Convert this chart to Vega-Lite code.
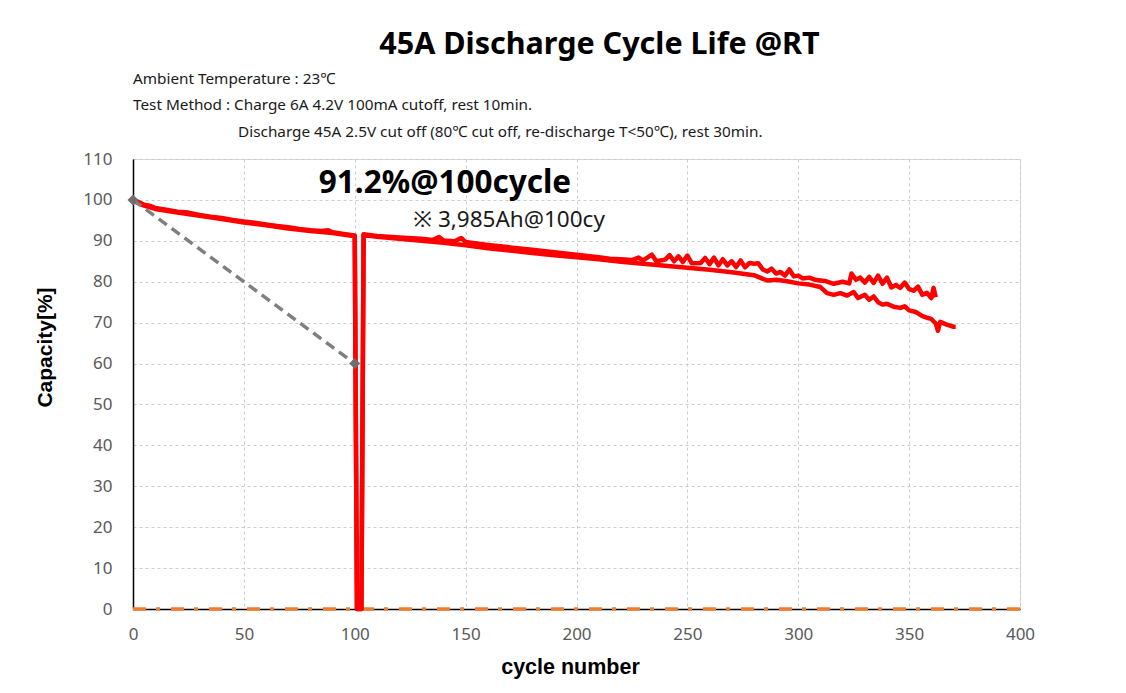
{
  "$schema": "https://vega.github.io/schema/vega-lite/v6.json",
  "width": 887,
  "height": 450,
  "autosize": {"type": "none"},
  "padding": {"left": 133, "top": 159, "right": 106, "bottom": 84},
  "background": "white",
  "title": {
    "text": "45A Discharge Cycle Life @RT",
    "font": "Noto Sans",
    "fontSize": 30.5,
    "fontWeight": "bold",
    "color": "#000000",
    "anchor": "middle",
    "dx": 23,
    "baseline": "alphabetic",
    "offset": -13
  },
  "config": {
    "view": {"stroke": "#d9d9d9", "strokeWidth": 1},
    "axis": {
      "labelFont": "Noto Sans",
      "labelFontSize": 17,
      "labelColor": "#595959",
      "labelFlush": false,
      "titleFont": "Liberation Sans",
      "titleFontSize": 21.5,
      "titleFontWeight": "bold",
      "titleColor": "#000000",
      "domainColor": "#000000",
      "domainWidth": 1.5,
      "ticks": false,
      "gridColor": "#cccccc",
      "gridDash": [3, 3],
      "gridWidth": 1
    }
  },
  "datasets": {
    "capacity": [
      {"series": "A", "cycle": 0, "capacity": 100},
      {"series": "A", "cycle": 2, "capacity": 99.6},
      {"series": "A", "cycle": 5, "capacity": 98.8},
      {"series": "A", "cycle": 8, "capacity": 98.5},
      {"series": "A", "cycle": 10, "capacity": 98.0},
      {"series": "A", "cycle": 15, "capacity": 97.6},
      {"series": "A", "cycle": 20, "capacity": 97.1},
      {"series": "A", "cycle": 25, "capacity": 96.9},
      {"series": "A", "cycle": 30, "capacity": 96.3},
      {"series": "A", "cycle": 35, "capacity": 95.9},
      {"series": "A", "cycle": 40, "capacity": 95.6},
      {"series": "A", "cycle": 45, "capacity": 95.1},
      {"series": "A", "cycle": 50, "capacity": 94.7},
      {"series": "A", "cycle": 55, "capacity": 94.4},
      {"series": "A", "cycle": 60, "capacity": 94.0},
      {"series": "A", "cycle": 65, "capacity": 93.6},
      {"series": "A", "cycle": 70, "capacity": 93.3},
      {"series": "A", "cycle": 75, "capacity": 92.9},
      {"series": "A", "cycle": 80, "capacity": 92.6},
      {"series": "A", "cycle": 85, "capacity": 92.4},
      {"series": "A", "cycle": 88, "capacity": 92.6},
      {"series": "A", "cycle": 90, "capacity": 92.1},
      {"series": "A", "cycle": 95, "capacity": 91.7},
      {"series": "A", "cycle": 100, "capacity": 91.3},
      {"series": "A", "cycle": 101, "capacity": 0},
      {"series": "A", "cycle": 103, "capacity": 0},
      {"series": "A", "cycle": 104, "capacity": 91.6},
      {"series": "A", "cycle": 110, "capacity": 91.2},
      {"series": "A", "cycle": 120, "capacity": 90.8},
      {"series": "A", "cycle": 130, "capacity": 90.5},
      {"series": "A", "cycle": 135, "capacity": 90.2},
      {"series": "A", "cycle": 138, "capacity": 90.9},
      {"series": "A", "cycle": 140, "capacity": 90.1},
      {"series": "A", "cycle": 145, "capacity": 89.9},
      {"series": "A", "cycle": 148, "capacity": 90.7},
      {"series": "A", "cycle": 150, "capacity": 89.7},
      {"series": "A", "cycle": 160, "capacity": 89.0},
      {"series": "A", "cycle": 170, "capacity": 88.4},
      {"series": "A", "cycle": 180, "capacity": 87.8},
      {"series": "A", "cycle": 190, "capacity": 87.2},
      {"series": "A", "cycle": 200, "capacity": 86.6},
      {"series": "A", "cycle": 210, "capacity": 86.0},
      {"series": "A", "cycle": 215, "capacity": 85.6},
      {"series": "A", "cycle": 220, "capacity": 85.5},
      {"series": "A", "cycle": 225, "capacity": 85.3},
      {"series": "A", "cycle": 228, "capacity": 85.9},
      {"series": "A", "cycle": 230, "capacity": 85.2},
      {"series": "A", "cycle": 234, "capacity": 86.6},
      {"series": "A", "cycle": 236, "capacity": 85.0},
      {"series": "A", "cycle": 240, "capacity": 85.4},
      {"series": "A", "cycle": 242, "capacity": 86.5},
      {"series": "A", "cycle": 244, "capacity": 85.0},
      {"series": "A", "cycle": 246, "capacity": 86.2},
      {"series": "A", "cycle": 248, "capacity": 84.8},
      {"series": "A", "cycle": 250, "capacity": 86.4},
      {"series": "A", "cycle": 252, "capacity": 84.5},
      {"series": "A", "cycle": 256, "capacity": 84.6},
      {"series": "A", "cycle": 258, "capacity": 85.8},
      {"series": "A", "cycle": 260, "capacity": 84.3},
      {"series": "A", "cycle": 262, "capacity": 85.9},
      {"series": "A", "cycle": 264, "capacity": 84.0},
      {"series": "A", "cycle": 266, "capacity": 85.5},
      {"series": "A", "cycle": 268, "capacity": 84.0},
      {"series": "A", "cycle": 270, "capacity": 85.0},
      {"series": "A", "cycle": 272, "capacity": 83.6},
      {"series": "A", "cycle": 274, "capacity": 85.2},
      {"series": "A", "cycle": 276, "capacity": 83.5},
      {"series": "A", "cycle": 278, "capacity": 84.6},
      {"series": "A", "cycle": 280, "capacity": 84.4},
      {"series": "A", "cycle": 282, "capacity": 84.5},
      {"series": "A", "cycle": 284, "capacity": 83.0},
      {"series": "A", "cycle": 286, "capacity": 82.5},
      {"series": "A", "cycle": 288, "capacity": 83.2},
      {"series": "A", "cycle": 290, "capacity": 82.0},
      {"series": "A", "cycle": 292, "capacity": 82.4},
      {"series": "A", "cycle": 294, "capacity": 81.5},
      {"series": "A", "cycle": 296, "capacity": 83.0},
      {"series": "A", "cycle": 298, "capacity": 81.3},
      {"series": "A", "cycle": 300, "capacity": 81.5},
      {"series": "A", "cycle": 302, "capacity": 80.8},
      {"series": "A", "cycle": 305, "capacity": 81.0},
      {"series": "A", "cycle": 308, "capacity": 80.4},
      {"series": "A", "cycle": 312, "capacity": 80.2},
      {"series": "A", "cycle": 316, "capacity": 79.5},
      {"series": "A", "cycle": 320, "capacity": 80.0},
      {"series": "A", "cycle": 323, "capacity": 79.6},
      {"series": "A", "cycle": 324, "capacity": 82.0},
      {"series": "A", "cycle": 326, "capacity": 80.5},
      {"series": "A", "cycle": 328, "capacity": 81.0},
      {"series": "A", "cycle": 330, "capacity": 79.8},
      {"series": "A", "cycle": 332, "capacity": 81.2},
      {"series": "A", "cycle": 334, "capacity": 79.7},
      {"series": "A", "cycle": 336, "capacity": 81.5},
      {"series": "A", "cycle": 338, "capacity": 79.5},
      {"series": "A", "cycle": 340, "capacity": 81.0},
      {"series": "A", "cycle": 342, "capacity": 78.6},
      {"series": "A", "cycle": 344, "capacity": 79.2},
      {"series": "A", "cycle": 346, "capacity": 78.5},
      {"series": "A", "cycle": 348, "capacity": 79.8},
      {"series": "A", "cycle": 350, "capacity": 78.2},
      {"series": "A", "cycle": 352, "capacity": 77.8},
      {"series": "A", "cycle": 354, "capacity": 78.8},
      {"series": "A", "cycle": 356, "capacity": 76.8},
      {"series": "A", "cycle": 358, "capacity": 77.3},
      {"series": "A", "cycle": 360, "capacity": 76.0},
      {"series": "A", "cycle": 361, "capacity": 78.5},
      {"series": "A", "cycle": 362, "capacity": 76.2},
      {"series": "B", "cycle": 0, "capacity": 99.8},
      {"series": "B", "cycle": 5, "capacity": 98.6},
      {"series": "B", "cycle": 10, "capacity": 97.8},
      {"series": "B", "cycle": 20, "capacity": 96.9},
      {"series": "B", "cycle": 30, "capacity": 96.1},
      {"series": "B", "cycle": 40, "capacity": 95.3},
      {"series": "B", "cycle": 50, "capacity": 94.5},
      {"series": "B", "cycle": 60, "capacity": 93.8},
      {"series": "B", "cycle": 70, "capacity": 93.0},
      {"series": "B", "cycle": 80, "capacity": 92.4},
      {"series": "B", "cycle": 90, "capacity": 91.9},
      {"series": "B", "cycle": 100, "capacity": 91.1},
      {"series": "B", "cycle": 101, "capacity": 0},
      {"series": "B", "cycle": 103, "capacity": 0},
      {"series": "B", "cycle": 104, "capacity": 91.4},
      {"series": "B", "cycle": 110, "capacity": 91.0},
      {"series": "B", "cycle": 120, "capacity": 90.5},
      {"series": "B", "cycle": 130, "capacity": 90.0},
      {"series": "B", "cycle": 140, "capacity": 89.5},
      {"series": "B", "cycle": 150, "capacity": 88.9},
      {"series": "B", "cycle": 160, "capacity": 88.2},
      {"series": "B", "cycle": 170, "capacity": 87.6},
      {"series": "B", "cycle": 180, "capacity": 87.0},
      {"series": "B", "cycle": 190, "capacity": 86.5},
      {"series": "B", "cycle": 200, "capacity": 86.0},
      {"series": "B", "cycle": 210, "capacity": 85.5},
      {"series": "B", "cycle": 220, "capacity": 84.9},
      {"series": "B", "cycle": 230, "capacity": 84.4},
      {"series": "B", "cycle": 240, "capacity": 83.9},
      {"series": "B", "cycle": 250, "capacity": 83.4},
      {"series": "B", "cycle": 260, "capacity": 82.9},
      {"series": "B", "cycle": 270, "capacity": 82.3},
      {"series": "B", "cycle": 280, "capacity": 81.6},
      {"series": "B", "cycle": 286, "capacity": 80.3},
      {"series": "B", "cycle": 290, "capacity": 80.5},
      {"series": "B", "cycle": 295, "capacity": 80.1},
      {"series": "B", "cycle": 300, "capacity": 79.6},
      {"series": "B", "cycle": 305, "capacity": 79.3},
      {"series": "B", "cycle": 310, "capacity": 78.7},
      {"series": "B", "cycle": 313, "capacity": 77.2},
      {"series": "B", "cycle": 316, "capacity": 76.8},
      {"series": "B", "cycle": 319, "capacity": 77.2},
      {"series": "B", "cycle": 322, "capacity": 76.6},
      {"series": "B", "cycle": 325, "capacity": 77.5},
      {"series": "B", "cycle": 327, "capacity": 76.0},
      {"series": "B", "cycle": 330, "capacity": 76.8},
      {"series": "B", "cycle": 332, "capacity": 75.6},
      {"series": "B", "cycle": 334, "capacity": 76.4},
      {"series": "B", "cycle": 336, "capacity": 75.0},
      {"series": "B", "cycle": 338, "capacity": 74.4},
      {"series": "B", "cycle": 340, "capacity": 74.6},
      {"series": "B", "cycle": 343, "capacity": 73.9},
      {"series": "B", "cycle": 346, "capacity": 73.6},
      {"series": "B", "cycle": 348, "capacity": 74.0},
      {"series": "B", "cycle": 350, "capacity": 73.0},
      {"series": "B", "cycle": 353, "capacity": 72.6},
      {"series": "B", "cycle": 356, "capacity": 71.6},
      {"series": "B", "cycle": 358, "capacity": 71.2},
      {"series": "B", "cycle": 360, "capacity": 70.9},
      {"series": "B", "cycle": 362, "capacity": 69.8},
      {"series": "B", "cycle": 363, "capacity": 68.0},
      {"series": "B", "cycle": 364, "capacity": 70.2},
      {"series": "B", "cycle": 367, "capacity": 69.5},
      {"series": "B", "cycle": 370, "capacity": 69.0},
      {"series": "B", "cycle": 371, "capacity": 69.0}
    ],
    "limit": [
      {"cycle": 0, "capacity": 100},
      {"cycle": 100, "capacity": 60}
    ],
    "zero": [
      {"cycle": 0, "capacity": 0},
      {"cycle": 400, "capacity": 0}
    ],
    "notes": [
      {"cycle": 0, "capacity": 129.6, "label": "Ambient Temperature : 23℃"},
      {"cycle": 0, "capacity": 123.2, "label": "Test Method : Charge 6A 4.2V 100mA cutoff, rest 10min."},
      {"cycle": 47.4, "capacity": 116.6, "label": "Discharge 45A 2.5V cut off (80℃ cut off, re-discharge T<50℃), rest 30min."}
    ],
    "headline": [
      {"cycle": 140.7, "capacity": 104.0, "label": "91.2%@100cycle"}
    ],
    "sub": [
      {"cycle": 169.6, "capacity": 95.1, "label": "※ 3,985Ah@100cy"}
    ]
  },
  "layer": [
    {
      "data": {"name": "zero"},
      "mark": {"type": "line", "color": "#ED7D31", "strokeWidth": 3.5, "strokeDash": [13, 10, 4, 11], "clip": false},
      "encoding": {
        "x": {"field": "cycle", "type": "quantitative", "scale": {"domain": [0, 400]},
          "axis": {"values": [0, 50, 100, 150, 200, 250, 300, 350, 400], "title": "cycle number", "labelPadding": 17, "titlePadding": 14, "titleX": 437, "grid": true}},
        "y": {"field": "capacity", "type": "quantitative", "scale": {"domain": [0, 110]},
          "axis": {"values": [0, 10, 20, 30, 40, 50, 60, 70, 80, 90, 100, 110], "title": "Capacity[%]", "labelPadding": 21, "titlePadding": 27, "titleFontSize": 21, "titleY": 188, "grid": true}}
      }
    },
    {
      "data": {"name": "capacity"},
      "mark": {"type": "line", "color": "#FF0000", "strokeWidth": 4.5, "strokeJoin": "round", "clip": false},
      "encoding": {
        "x": {"field": "cycle", "type": "quantitative"},
        "y": {"field": "capacity", "type": "quantitative"},
        "detail": {"field": "series"}
      }
    },
    {
      "data": {"name": "limit"},
      "mark": {"type": "line", "color": "#7F7F7F", "strokeWidth": 3.5, "strokeDash": [10, 6]},
      "encoding": {
        "x": {"field": "cycle", "type": "quantitative"},
        "y": {"field": "capacity", "type": "quantitative"}
      }
    },
    {
      "data": {"name": "limit"},
      "mark": {"type": "point", "shape": "diamond", "filled": true, "color": "#6E6E6E", "size": 120, "opacity": 1},
      "encoding": {
        "x": {"field": "cycle", "type": "quantitative"},
        "y": {"field": "capacity", "type": "quantitative"}
      }
    },
    {
      "data": {"name": "notes"},
      "mark": {"type": "text", "align": "left", "baseline": "middle", "font": "Noto Sans", "fontSize": 15.3, "color": "#1a1a1a"},
      "encoding": {
        "x": {"field": "cycle", "type": "quantitative"},
        "y": {"field": "capacity", "type": "quantitative"},
        "text": {"field": "label"}
      }
    },
    {
      "data": {"name": "headline"},
      "mark": {"type": "text", "align": "center", "baseline": "middle", "font": "Noto Sans", "fontSize": 31.5, "fontWeight": "bold", "color": "#000000"},
      "encoding": {
        "x": {"field": "cycle", "type": "quantitative"},
        "y": {"field": "capacity", "type": "quantitative"},
        "text": {"field": "label"}
      }
    },
    {
      "data": {"name": "sub"},
      "mark": {"type": "text", "align": "center", "baseline": "middle", "font": "Noto Sans", "fontSize": 22.5, "color": "#1a1a1a"},
      "encoding": {
        "x": {"field": "cycle", "type": "quantitative"},
        "y": {"field": "capacity", "type": "quantitative"},
        "text": {"field": "label"}
      }
    }
  ]
}
